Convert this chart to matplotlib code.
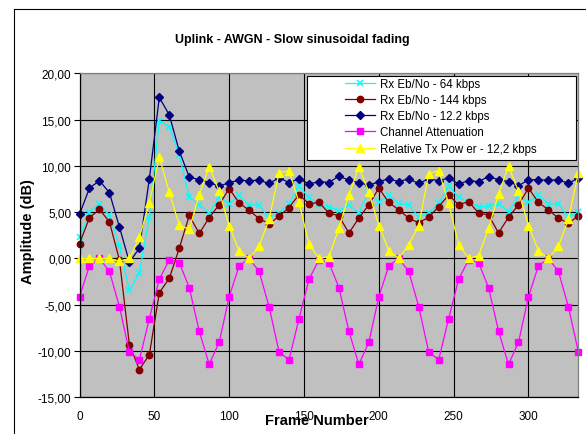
# coding: utf-8
import numpy as np
import matplotlib
matplotlib.use("Agg")
import matplotlib.pyplot as plt
from matplotlib.lines import Line2D
from matplotlib.patches import Rectangle

plt.rcParams['font.family'] = ['Liberation Sans', 'DejaVu Sans']

# one sample every 20/3 frames, 51 samples
frame = np.arange(51) * 20 / 3

rx_64 = [2.3, 5.0, 5.9, 4.65, 1.35, -3.45, -1.6, 4.5, 14.9, 14.2,
         11.2, 6.65, 5.8, 4.9, 6.65, 5.9, 6.8, 5.8, 5.75, 4.35,
         4.95, 5.9, 7.8, 6.6, 5.8, 5.6, 5.15, 5.8, 4.9, 7.25,
         6.05, 6.85, 5.95, 5.8, 4.45, 4.9, 5.95, 7.8, 6.6, 6.05,
         5.55, 5.65, 5.9, 5.05, 6.7, 6.05, 6.85, 5.9, 5.9, 4.45, 5.0]

rx_144 = [1.6, 4.4, 5.3, 3.95, -0.15, -9.3, -12.0, -10.4, -3.7, -2.15,
          1.1, 4.65, 2.7, 4.4, 5.8, 7.55, 6.0, 5.2, 4.3, 3.75,
          4.55, 5.5, 6.9, 5.9, 6.05, 4.9, 4.6, 2.75, 4.35, 5.8,
          7.6, 6.05, 5.25, 4.35, 3.85, 4.45, 5.6, 6.85, 5.8, 6.15,
          4.9, 4.7, 2.75, 4.45, 5.8, 7.6, 6.05, 5.25, 4.35, 3.8, 4.6]

rx_122 = [4.77, 7.6, 8.4, 7.1, 3.4, -0.4, 1.1, 8.6, 17.4, 15.5,
          11.6, 8.8, 8.5, 8.2, 7.8, 8.2, 8.45, 8.4, 8.45, 8.1,
          8.7, 8.2, 8.6, 8.05, 8.3, 8.2, 8.9, 8.45, 8.2, 7.9,
          8.3, 8.6, 8.3, 8.6, 8.1, 8.6, 8.4, 8.7, 8.05, 8.4,
          8.3, 8.85, 8.5, 8.3, 7.85, 8.5, 8.5, 8.45, 8.5, 8.1, 8.7]

chan_att = [-4.15, -0.8, 0.0, -1.4, -5.2, -10.1, -10.95, -6.5, -2.25, -0.15,
            -0.45, -3.15, -7.85, -11.45, -9.05, -4.15, -0.8, 0.0, -1.4, -5.2,
            -10.1, -10.95, -6.5, -2.25, -0.15, -0.45, -3.15, -7.85, -11.45, -9.05,
            -4.15, -0.8, 0.0, -1.4, -5.2, -10.1, -10.95, -6.5, -2.25, -0.15,
            -0.45, -3.15, -7.85, -11.45, -9.05, -4.15, -0.8, 0.0, -1.4, -5.2, -10.1]

tx_pow = [0.0, 0.0, 0.0, 0.0, -0.3, 0.0, 2.27, 6.0, 10.95, 7.15,
          3.6, 3.15, 6.9, 9.9, 7.25, 3.5, 0.8, 0.0, 1.3, 4.25,
          9.25, 9.5, 6.05, 1.55, 0.0, 0.2, 3.25, 6.85, 9.9, 7.15,
          3.55, 0.85, 0.0, 1.5, 3.55, 9.15, 9.5, 5.95, 1.5, 0.0,
          0.3, 3.25, 6.95, 9.95, 7.25, 3.55, 0.85, 0.0, 1.3, 4.25, 9.25]

names = ['Rx Eb/No - 64 kbps', 'Rx Eb/No - 144 kbps', 'Rx Eb/No - 12.2 kbps',
         'Channel Attenuation', 'Relative Tx Pow er - 12,2 kbps']

x_ticks = [0, 50, 100, 150, 200, 250, 300]
y_ticks = [-15, -10, -5, 0, 5, 10, 15, 20]
y_tick_labels = [f"{v:.2f}".replace('.', ',') for v in y_ticks]

W, H = 586, 435
fig = plt.figure(figsize=(W / 100, H / 100), dpi=100)
ax = fig.add_axes([79.5 / W, 1 - 398.3 / H, (578.3 - 79.5) / W, (398.3 - 74.3) / H])
ax.set_facecolor('#C0C0C0')

# series: kolor, marker, rozmiar
ax.plot(frame, rx_64, color='#00FFFF', marker='x', ms=5, mew=1.1, lw=0.9,
        label=names[0], clip_on=False)
ax.plot(frame, rx_144, color='#800000', marker='o', ms=4.6, lw=0.9,
        label=names[1], clip_on=False)
ax.plot(frame, rx_122, color='#000080', marker='D', ms=4.4, lw=0.9,
        label=names[2], clip_on=False)
ax.plot(frame, chan_att, color='#FF00FF', marker='s', ms=4.6, lw=0.9,
        label=names[3], clip_on=False)
ax.plot(frame, tx_pow, color='#FFFF00', marker='^', ms=5.8, lw=0.9,
        label=names[4], clip_on=False)

ax.set_xlim(0, 333.3)
ax.set_ylim(-15, 20)
ax.set_xticks(x_ticks)
ax.set_yticks(y_ticks)
ax.set_yticklabels(y_tick_labels)
ax.tick_params(axis='x', length=0, pad=9, labelsize=8.5)
ax.tick_params(axis='y', length=4, width=0.8, pad=2, labelsize=8.5, direction='out')
ax.grid(True, color='black', lw=0.8)
ax.set_axisbelow(True)
for s in ['left', 'bottom']:
    ax.spines[s].set_color('black')
    ax.spines[s].set_linewidth(0.9)
for s in ['top', 'right']:
    ax.spines[s].set_color('#808080')
    ax.spines[s].set_linewidth(0.9)

# tytul i opisy osi
fig.text(292 / W, 1 - 40 / H, 'Uplink - AWGN - Slow sinusoidal fading',
         ha='center', va='center', fontsize=9, fontweight='bold')
fig.text(317 / W, 1 - 421 / H, 'Frame Number', ha='center', va='center',
         fontsize=10.5, fontweight='bold')
fig.text(28 / W, 1 - 232 / H, 'Amplitude (dB)', ha='center', va='center',
         rotation=90, fontsize=10.5, fontweight='bold')

# ramka wykresu (widoczna tylko z lewej i od gory)
fig.add_artist(Line2D([13.5 / W, 13.5 / W], [0, 1 - 10 / H], color='black', lw=0.8))
fig.add_artist(Line2D([13.5 / W, 1], [1 - 10 / H, 1 - 10 / H], color='black', lw=0.8))

# legenda w bialym prostokacie
box = Rectangle((307.3 / W, 1 - 160.7 / H), (575.7 - 307.3) / W, (160.7 - 77.3) / H,
                transform=fig.transFigure, facecolor='white', edgecolor='black',
                lw=0.8, zorder=4)
fig.add_artist(box)
handles, labels = ax.get_legend_handles_labels()
leg = fig.legend(handles, labels, loc='upper left',
                 bbox_to_anchor=(345 / W, 1 - 79 / H), bbox_transform=fig.transFigure,
                 frameon=False, fontsize=8.3, numpoints=1, handlelength=2.6,
                 handletextpad=0.45, labelspacing=0.36, borderpad=0, borderaxespad=0)
leg.set_zorder(5)

fig.savefig('out.png', dpi=100)
